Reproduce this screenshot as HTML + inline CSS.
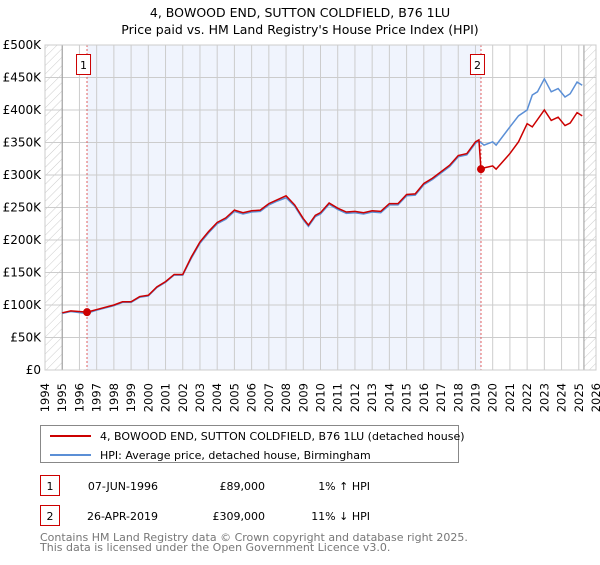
<!DOCTYPE html>
<html><head><meta charset="utf-8"><style>
body{margin:0;background:#fff;font-family:"Liberation Sans","DejaVu Sans",sans-serif;}
</style></head><body>
<svg width="600" height="560" xmlns="http://www.w3.org/2000/svg" id="chart" font-family="DejaVu Sans, Liberation Sans, sans-serif">
<defs><pattern id="hatch" width="6" height="6" patternUnits="userSpaceOnUse" patternTransform="rotate(45)"><line x1="0" y1="0" x2="0" y2="6" stroke="#ccc" stroke-width="1"/></pattern></defs>
<text x="300" y="17" text-anchor="middle" font-size="12.5">4, BOWOOD END, SUTTON COLDFIELD, B76 1LU</text>
<text x="300" y="34" text-anchor="middle" font-size="12.5">Price paid vs. HM Land Registry's House Price Index (HPI)</text>
<g id="plot"></g>
<g>
<rect x="40.5" y="425.5" width="418" height="37" fill="#fff" stroke="#888"/>
<line x1="50" y1="436" x2="91" y2="436" stroke="#cc0000" stroke-width="2"/>
<text x="100" y="440" font-size="11">4, BOWOOD END, SUTTON COLDFIELD, B76 1LU (detached house)</text>
<line x1="50" y1="455" x2="91" y2="455" stroke="#5b8fd6" stroke-width="2"/>
<text x="100" y="459" font-size="11">HPI: Average price, detached house, Birmingham</text>
</g>
<g font-size="11">
<rect x="40.5" y="475.5" width="19" height="20" fill="none" stroke="#cc0000"/><text x="50" y="490" text-anchor="middle">1</text>
<text x="158" y="490" text-anchor="end">07-JUN-1996</text><text x="265" y="490" text-anchor="end">£89,000</text><text x="370" y="490" text-anchor="end">1% ↑ HPI</text>
<rect x="40.5" y="505.5" width="19" height="20" fill="none" stroke="#cc0000"/><text x="50" y="520" text-anchor="middle">2</text>
<text x="158" y="520" text-anchor="end">26-APR-2019</text><text x="265" y="520" text-anchor="end">£309,000</text><text x="370" y="520" text-anchor="end">11% ↓ HPI</text>
</g>
<text x="40" y="541" font-size="11" fill="#777">Contains HM Land Registry data © Crown copyright and database right 2025.</text>
<text x="40" y="551" font-size="11" fill="#777">This data is licensed under the Open Government Licence v3.0.</text>
</svg>
<script>
const yTicks=[0,50,100,150,200,250,300,350,400,450,500];
const yTickLabels=["£0","£50K","£100K","£150K","£200K","£250K","£300K","£350K","£400K","£450K","£500K"];
const years=[1994,1995,1996,1997,1998,1999,2000,2001,2002,2003,2004,2005,2006,2007,2008,2009,2010,2011,2012,2013,2014,2015,2016,2017,2018,2019,2020,2021,2022,2023,2024,2025,2026];
const hpiT=[1995.0,1995.5,1996.4,1997,1998,1998.5,1999,1999.5,2000,2000.5,2001,2001.5,2002,2002.5,2003,2003.5,2004,2004.5,2005,2005.5,2006,2006.5,2007,2007.5,2008,2008.5,2009,2009.3,2009.7,2010,2010.5,2011,2011.5,2012,2012.5,2013,2013.5,2014,2014.5,2015,2015.5,2016,2016.5,2017,2017.5,2018,2018.5,2019,2019.2,2019.5,2020,2020.2,2021,2021.5,2022,2022.3,2022.6,2023,2023.4,2023.8,2024.2,2024.5,2024.9,2025.2];
const hpiV=[87,90,87,92,99,104,104,112,114,127,135,146,146,172,195,211,225,232,244,240,243,244,254,260,265,252,231,221,236,240,255,247,241,242,240,243,242,254,254,268,269,285,293,303,313,328,331,349,352,346,351,346,374,391,400,423,428,448,428,433,420,425,443,438];
const redT=[1995.0,1995.5,1996.44,1997,1998,1998.5,1999,1999.5,2000,2000.5,2001,2001.5,2002,2002.5,2003,2003.5,2004,2004.5,2005,2005.5,2006,2006.5,2007,2007.5,2008,2008.5,2009,2009.3,2009.7,2010,2010.5,2011,2011.5,2012,2012.5,2013,2013.5,2014,2014.5,2015,2015.5,2016,2016.5,2017,2017.5,2018,2018.5,2019,2019.2,2019.32,2019.5,2020,2020.2,2021,2021.5,2022,2022.3,2023,2023.4,2023.8,2024.2,2024.5,2024.9,2025.2];
const redV=[88,91,89,93,100,105,105,113,115,128,136,147,147,174,197,213,227,234,246,242,245,246,256,262,268,254,233,223,238,242,257,249,243,244,242,245,244,256,256,270,271,287,295,305,315,330,333,351,354,309,311,314,309,333,351,379,374,400,384,389,376,380,396,391];
const saleT=[1996.44,2019.32];
const saleV=[89,309];
const saleLabels=["1","2"];
const L=45,R=596,T=45,B=370,x0=1994,x1=2026,ymax=500;
const X=t=>L+(t-x0)/(x1-x0)*(R-L);
const Y=v=>B-v/ymax*(B-T);
const NS="http://www.w3.org/2000/svg";
const g=document.getElementById('plot');
function mk(tag,attrs){const e=document.createElementNS(NS,tag);for(const k in attrs)e.setAttribute(k,attrs[k]);g.appendChild(e);return e;}
let e;
e=mk('rect',{x:L,y:T,width:R-L,height:B-T,fill:'#fff'});


e=mk('rect',{x:X(saleT[0]),y:T,width:X(saleT[1])-X(saleT[0]),height:B-T,fill:'#f0f4fd'});


e=mk('rect',{x:L,y:T,width:X(1995)-L,height:B-T,fill:'url(#hatch)'});


e=mk('rect',{x:X(2025.3),y:T,width:R-X(2025.3),height:B-T,fill:'url(#hatch)'});


yTicks.forEach((v,i)=>{
 e=mk('line',{x1:L,x2:R,y1:Y(v),y2:Y(v),stroke:'#ccc','stroke-width':1});
 
 
 e=mk('text',{x:L-4,y:Y(v)+4,'text-anchor':'end','font-size':12});
 e.textContent=yTickLabels[i];
 
 
});
years.forEach(yr=>{
 e=mk('line',{x1:X(yr),x2:X(yr),y1:T,y2:B,stroke:'#ccc','stroke-width':1});
 
 
 const tx=X(yr)+4,ty=383;
 e=mk('text',{x:tx,y:ty,'text-anchor':'end','font-size':11.5,transform:`rotate(-90 ${tx} ${ty})`});
 e.textContent=yr;
 
 
});
e=mk('line',{x1:X(1995),x2:X(1995),y1:T,y2:B,stroke:'#999'});


e=mk('line',{x1:X(2025.3),x2:X(2025.3),y1:T,y2:B,stroke:'#999'});


saleT.forEach((t,i)=>{
 e=mk('line',{x1:X(t),x2:X(t),y1:T,y2:B,stroke:'#e06060','stroke-dasharray':'2,2'});
 
 
 e=mk('rect',{x:X(t)-10.5,y:54.5,width:14,height:20,fill:'#fff',stroke:'#cc0000'});
 
 
 e=mk('text',{x:X(t)-3.5,y:69,'text-anchor':'middle','font-size':11});
 e.textContent=saleLabels[i];
 
 
});
e=mk('polyline',{points:hpiT.map((t,i)=>X(t)+','+Y(hpiV[i])).join(' '),fill:'none',stroke:'#5b8fd6','stroke-width':1.5});


e=mk('polyline',{points:redT.map((t,i)=>X(t)+','+Y(redV[i])).join(' '),fill:'none',stroke:'#cc0000','stroke-width':1.5});


saleT.forEach((t,i)=>{
 e=mk('circle',{cx:X(t),cy:Y(saleV[i]),r:4,fill:'#cc0000'});
 
 
});
e=mk('rect',{x:L,y:T,width:R-L,height:B-T,fill:'none',stroke:'#ccc'});


</script>
</body></html>
